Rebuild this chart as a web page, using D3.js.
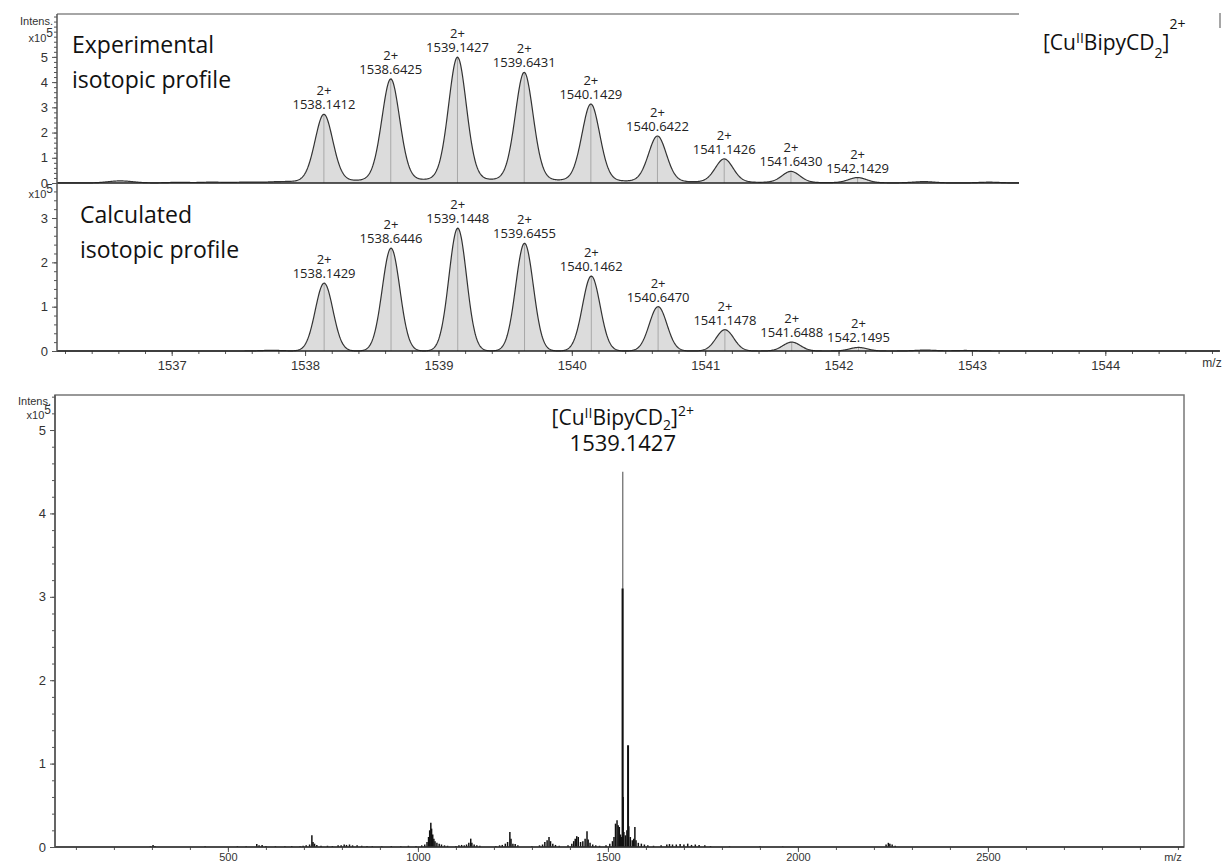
<!DOCTYPE html>
<html>
<head>
<meta charset="utf-8">
<script src="https://cdn.jsdelivr.net/npm/d3@7"></script>
<style>
  body { margin: 0; background: #fff; }
  svg { display: block; font-family: "Liberation Sans", Arial, sans-serif; }
</style>
</head>
<body>
<div id="chart"></div>
<script>
// isotopic cluster, experimental (m/z, intensity in 1e5)
const expMz = [1538.1412, 1538.6425, 1539.1427, 1539.6431, 1540.1429, 1540.6422, 1541.1426, 1541.6430, 1542.1429];
const expInt = [2.70, 4.09, 4.95, 4.35, 3.10, 1.84, 0.94, 0.45, 0.21];
// small unlabelled bumps on the experimental baseline
const expMinorMz = [1536.58, 1536.66, 1537.05, 1537.30, 1537.55, 1537.80, 1542.64, 1543.13];
const expMinorInt = [0.05, 0.04, 0.02, 0.025, 0.02, 0.025, 0.05, 0.03];

// isotopic cluster, calculated
const calcMz = [1538.1429, 1538.6446, 1539.1448, 1539.6455, 1540.1462, 1540.6470, 1541.1478, 1541.6488, 1542.1495];
const calcInt = [1.53, 2.32, 2.77, 2.43, 1.69, 1.00, 0.48, 0.20, 0.08];
const calcMinorMz = [1537.75, 1542.65, 1542.95];
const calcMinorInt = [0.015, 0.02, 0.012];

const charge = "2+";
const isoTicks = [1537, 1538, 1539, 1540, 1541, 1542, 1543, 1544];
const expYTicks = [0, 1, 2, 3, 4, 5];
const calcYTicks = [0, 1, 2, 3];
const panelTitles = [["Experimental", "isotopic profile"], ["Calculated", "isotopic profile"]];

// full spectrum, sticks (m/z, intensity in 1e5)
const fullMz = [296, 303, 308, 440, 525, 548, 576, 582, 590, 600, 625, 650, 668, 690,
  698, 706, 715, 721, 724, 728, 734, 745,
  762, 775, 790, 798, 806, 812, 820, 828, 840, 852, 866, 880,
  905, 930, 955, 975, 995, 1010,
  1018, 1024, 1028, 1031, 1034, 1036, 1039, 1042, 1045, 1050, 1056, 1062, 1070, 1078,
  1100, 1108, 1115, 1122, 1128, 1134, 1139, 1142, 1148, 1155, 1163,
  1205, 1215, 1222, 1230, 1236, 1242, 1245, 1250, 1256, 1263,
  1300, 1320, 1328, 1334, 1340, 1345, 1349, 1355, 1362, 1372,
  1395, 1405, 1410, 1414, 1418, 1422, 1428, 1434, 1440, 1445, 1448, 1453, 1460, 1468, 1478,
  1495, 1505, 1512, 1516, 1520, 1524, 1527, 1530, 1533, 1536, 1538.6, 1539.1, 1540.1, 1542, 1546, 1550,
  1553, 1555, 1559, 1564, 1568, 1571, 1574, 1580, 1588, 1596, 1605,
  1620, 1640, 1655, 1662, 1670, 1680, 1690, 1700, 1710, 1720, 1730, 1740, 1755, 1770,
  1820, 1900, 1960,
  2232, 2238, 2242, 2248, 2256];
const fullInt = [0.01, 0.025, 0.012, 0.008, 0.01, 0.01, 0.035, 0.02, 0.025, 0.012, 0.01, 0.01, 0.012, 0.01,
  0.015, 0.02, 0.03, 0.14, 0.06, 0.04, 0.025, 0.015,
  0.015, 0.012, 0.02, 0.02, 0.03, 0.025, 0.03, 0.02, 0.02, 0.015, 0.012, 0.01,
  0.01, 0.012, 0.01, 0.015, 0.012, 0.02,
  0.03, 0.06, 0.12, 0.20, 0.29, 0.22, 0.15, 0.10, 0.07, 0.05, 0.04, 0.03, 0.02, 0.015,
  0.012, 0.02, 0.025, 0.02, 0.03, 0.05, 0.10, 0.05, 0.03, 0.02, 0.015,
  0.012, 0.02, 0.025, 0.04, 0.06, 0.18, 0.10, 0.04, 0.035, 0.02,
  0.01, 0.02, 0.03, 0.06, 0.08, 0.12, 0.07, 0.04, 0.025, 0.015,
  0.02, 0.04, 0.07, 0.10, 0.13, 0.12, 0.06, 0.07, 0.10, 0.19, 0.09, 0.05, 0.03, 0.02, 0.015,
  0.02, 0.04, 0.07, 0.12, 0.28, 0.32, 0.26, 0.24, 0.15, 0.12, 3.10, 4.50, 0.60, 0.18, 0.14, 0.20,
  1.22, 0.25, 0.12, 0.08, 0.10, 0.24, 0.08, 0.05, 0.04, 0.03, 0.02,
  0.015, 0.02, 0.03, 0.035, 0.03, 0.03, 0.035, 0.03, 0.04, 0.025, 0.03, 0.025, 0.02, 0.012,
  0.008, 0.01, 0.006,
  0.03, 0.05, 0.04, 0.03, 0.015];
const fullTicks = [500, 1000, 1500, 2000, 2500];
const fullYTicks = [0, 1, 2, 3, 4, 5];
const mainPeakMz = 1539.1427;

const W = 1224, H = 863;
const svg = d3.select("#chart").append("svg").attr("width", W).attr("height", H);

const axisColor = "#555", labelColor = "#333";

// scales
const xIso = d3.scaleLinear().domain([1536.14, 1544.86]).range([57, 1220]);
const yExp = d3.scaleLinear().domain([0, 6.7]).range([183, 14]);
const yCalc = d3.scaleLinear().domain([0, 3.79]).range([351, 183]);
const xFull = d3.scaleLinear().domain([45, 3016]).range([55, 1184]);
const yFull = d3.scaleLinear().domain([0, 5.42]).range([847, 395]);

// pseudo-Voigt line shape used to draw each isotope peak
function shape(mzs, ints, sigma, eta) {
  const g = sigma * 1.1774;
  return x => d3.sum(mzs, (c, i) => {
    const d = x - c;
    return ints[i] * ((1 - eta) * Math.exp(-d * d / (2 * sigma * sigma)) + eta / (1 + (d / g) * (d / g)));
  });
}

function drawProfile(y, mzs, ints, minMz, minInt, sigma, eta) {
  const main = shape(mzs, ints, sigma, eta);
  const minor = shape(minMz, minInt, 0.08, 0);
  const f = x => main(x) + minor(x);
  const grid = d3.range(xIso.domain()[0], xIso.domain()[1], 0.004);
  const g = svg.append("g");
  g.append("path").datum(grid)
    .attr("d", d3.area().x(d => xIso(d)).y0(y(0)).y1(d => y(f(d))))
    .attr("fill", "#dcdcdc");
  g.selectAll(".cen").data(mzs).enter().append("line")
    .attr("x1", d => xIso(d)).attr("x2", d => xIso(d))
    .attr("y1", y(0)).attr("y2", d => y(f(d)))
    .attr("stroke", "#a8a8a8").attr("stroke-width", 1);
  g.append("path").datum(grid)
    .attr("d", d3.line().x(d => xIso(d)).y(d => y(f(d))))
    .attr("fill", "none").attr("stroke", "#333").attr("stroke-width", 1.2);
  // peak labels
  const lab = g.selectAll(".lab").data(mzs).enter().append("g");
  lab.append("text")
    .attr("x", d => xIso(d)).attr("y", d => y(f(d)) - 19)
    .attr("text-anchor", "middle").attr("font-family", "Open Sans").attr("font-size", 13)
    .attr("fill", "#222").text(charge);
  lab.append("text")
    .attr("x", d => xIso(d)).attr("y", d => y(f(d)) - 5)
    .attr("text-anchor", "middle").attr("font-family", "Open Sans").attr("font-size", 13)
    .attr("fill", "#222").text(d => d.toFixed(4));
}

function yAxis(y, max, labelled, x0) {
  const g = svg.append("g").attr("transform", `translate(${x0},0)`);
  g.append("g")
    .call(d3.axisLeft(y).tickValues(d3.range(0, max + 0.001, 0.2)).tickSize(3).tickFormat(""))
    .call(a => a.select(".domain").remove());
  g.append("g")
    .call(d3.axisLeft(y).tickValues(labelled).tickSize(5).tickSizeOuter(0).tickFormat(d3.format("d")))
    .call(a => a.select(".domain").remove());
  g.selectAll("line").attr("stroke", axisColor);
  g.selectAll("text").attr("fill", labelColor).attr("font-size", 13).attr("dx", "-1");
  g.append("line").attr("x1", 0).attr("x2", 0)
    .attr("y1", y.range()[0]).attr("y2", y.range()[1])
    .attr("stroke", axisColor).attr("stroke-width", 1.5);
}

function unitLabel(x, yIntens, yExpo) {
  if (yIntens !== null) {
    svg.append("text").attr("x", x).attr("y", yIntens).attr("text-anchor", "end")
      .attr("font-size", 11).attr("fill", labelColor).text("Intens.");
  }
  const t = svg.append("text").attr("x", x).attr("y", yExpo).attr("text-anchor", "end")
    .attr("font-size", 11).attr("fill", labelColor);
  t.append("tspan").text("x10");
  t.append("tspan").attr("dy", -5).attr("font-size", 12).text("5");
}

function panelTitle(lines, x, y) {
  const t = svg.append("text").attr("font-family", "Open Sans").attr("font-size", 23).attr("fill", "#111");
  lines.forEach((s, i) => t.append("tspan").attr("x", x).attr("y", y + i * 35).text(s));
}

// ---- top: experimental
svg.append("line").attr("x1", 57).attr("x2", 1220).attr("y1", 14).attr("y2", 14)
  .attr("stroke", "#888").attr("stroke-width", 1.5);
drawProfile(yExp, expMz, expInt, expMinorMz, expMinorInt, 0.068, 0.15);
svg.append("line").attr("x1", 57).attr("x2", 1220).attr("y1", yExp(0)).attr("y2", yExp(0))
  .attr("stroke", "#222").attr("stroke-width", 1.5);
panelTitle(panelTitles[0], 72, 53);

// ---- middle: calculated
drawProfile(yCalc, calcMz, calcInt, calcMinorMz, calcMinorInt, 0.066, 0);
panelTitle(panelTitles[1], 80, 223);

const gx = svg.append("g").attr("transform", `translate(0,${yCalc(0)})`);
gx.append("g")
  .call(d3.axisBottom(xIso).tickValues(d3.range(1536.2, 1544.81, 0.2)).tickSize(3).tickFormat(""))
  .call(a => a.select(".domain").remove());
gx.append("g")
  .call(d3.axisBottom(xIso).tickValues(isoTicks).tickSize(5).tickSizeOuter(0).tickFormat(d3.format("d")))
  .call(a => a.select(".domain").remove());
gx.selectAll("line").attr("stroke", axisColor);
gx.selectAll("text").attr("fill", labelColor).attr("font-size", 13).attr("dy", "0.85em");
gx.append("line").attr("x1", 57).attr("x2", 1220).attr("stroke", "#222").attr("stroke-width", 1.5);
gx.append("text").attr("x", 1212).attr("y", 16).attr("text-anchor", "middle")
  .attr("font-size", 12).attr("fill", labelColor).text("m/z");

yAxis(yExp, 6.6, expYTicks, 57);
yAxis(yCalc, 3.79, calcYTicks, 57);
unitLabel(53, 25, 42);
unitLabel(53, null, 198);

// white box with the complex formula
svg.append("rect").attr("x", 1019).attr("y", 0).attr("width", 205).attr("height", 184.5).attr("fill", "#fff");
svg.append("line").attr("x1", 1220).attr("x2", 1220).attr("y1", 13).attr("y2", 28)
  .attr("stroke", "#888").attr("stroke-width", 1.5);

function formula(sel, big, small, subDy, supDy) {
  sel.append("tspan").text("[Cu");
  sel.append("tspan").attr("font-size", small).attr("dy", -big * 0.33).text("II");
  sel.append("tspan").attr("font-size", big).attr("dy", big * 0.33).text("BipyCD");
  sel.append("tspan").attr("font-size", small).attr("dy", subDy).text("2");
  sel.append("tspan").attr("font-size", big).attr("dy", -subDy).text("]");
  sel.append("tspan").attr("font-size", small).attr("dy", -supDy).text(charge);
}
const tr = svg.append("text").attr("x", 1043).attr("y", 50)
  .attr("font-family", "Open Sans").attr("font-size", 21).attr("fill", "#111");
formula(tr, 21, 14, 8, 21);

// ---- bottom: full spectrum
const gb = svg.append("g");
gb.append("rect").attr("x", xFull.range()[0]).attr("y", yFull.range()[1])
  .attr("width", xFull.range()[1] - xFull.range()[0]).attr("height", yFull.range()[0] - yFull.range()[1])
  .attr("fill", "none").attr("stroke", "#777").attr("stroke-width", 1.5);

// tallest sticks first so the thicker ones stay visible on top
const order = d3.range(fullMz.length).sort((a, b) => fullInt[b] - fullInt[a]);
gb.selectAll(".stick").data(order).enter().append("line")
  .attr("x1", i => xFull(fullMz[i])).attr("x2", i => xFull(fullMz[i]))
  .attr("y1", yFull(0)).attr("y2", i => yFull(fullInt[i]))
  .attr("stroke", i => fullInt[i] > 4 ? "#666" : "#111")
  .attr("stroke-width", i => fullInt[i] > 4 ? 1.2 : fullInt[i] > 1 ? 2 : 1.5);

const gbx = svg.append("g").attr("transform", `translate(0,${yFull(0)})`);
gbx.append("g")
  .call(d3.axisBottom(xFull).tickValues(d3.range(100, 3001, 100)).tickSize(3).tickFormat(""))
  .call(a => a.select(".domain").remove());
gbx.append("g")
  .call(d3.axisBottom(xFull).tickValues(fullTicks).tickSize(5).tickSizeOuter(0).tickFormat(d3.format("d")))
  .call(a => a.select(".domain").remove());
gbx.selectAll("line").attr("stroke", axisColor);
gbx.selectAll("text").attr("fill", labelColor).attr("font-size", 11).attr("y", 6).attr("dy", "0.7em");
gbx.append("line").attr("x1", 55).attr("x2", 1184).attr("stroke", "#333").attr("stroke-width", 1.5);
gbx.append("text").attr("x", 1173).attr("y", 14).attr("text-anchor", "middle")
  .attr("font-size", 11).attr("fill", labelColor).text("m/z");

yAxis(yFull, 5.4, fullYTicks, 55);
unitLabel(51, 405, 419);

const tb = svg.append("text").attr("x", xFull(mainPeakMz)).attr("y", 425).attr("text-anchor", "middle")
  .attr("font-family", "Open Sans").attr("font-size", 21).attr("fill", "#111");
formula(tb, 21, 14, 5, 9);
svg.append("text").attr("x", xFull(mainPeakMz)).attr("y", 451).attr("text-anchor", "middle")
  .attr("font-family", "Open Sans").attr("font-size", 22).attr("fill", "#111").text(mainPeakMz.toFixed(4));
</script>
</body>
</html>
